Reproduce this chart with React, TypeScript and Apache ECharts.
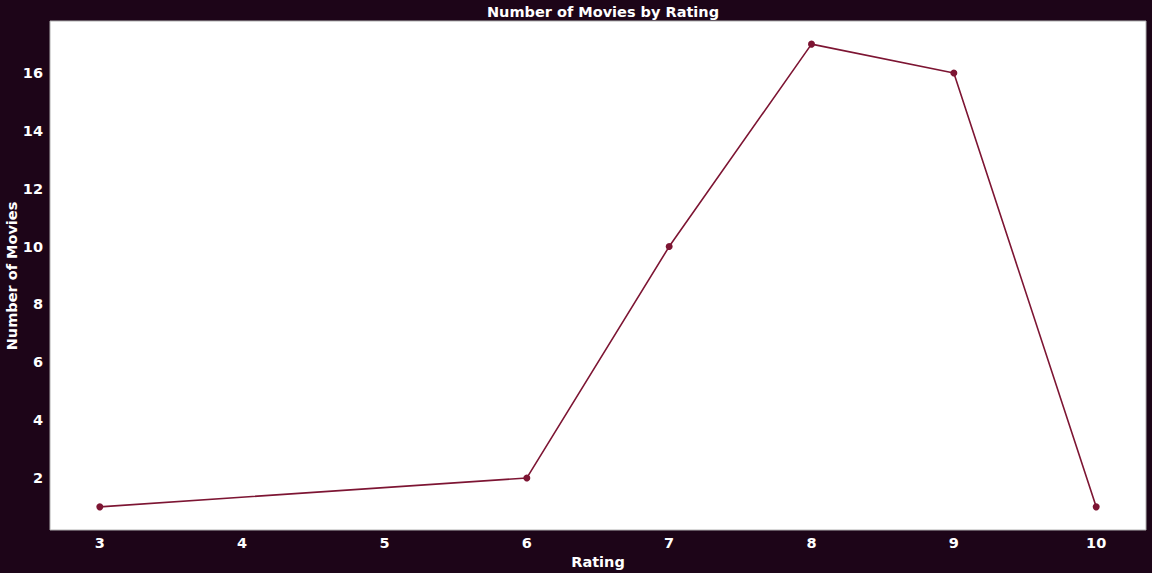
import React, { useEffect, useRef } from 'react';
import * as echarts from 'echarts';

const ratings = [3, 6, 7, 8, 9, 10];
const movieCounts = [1, 2, 10, 17, 16, 1];
const xTicks = [3, 4, 5, 6, 7, 8, 9, 10];
const yTicks = [2, 4, 6, 8, 10, 12, 14, 16];

const BG = '#1d0518';
const LINE = '#7d1533';
const FONT = 'DejaVu Sans';

export default function App() {
  const chartRef = useRef<HTMLDivElement>(null);

  useEffect(() => {
    if (!chartRef.current) return;
    const chart = echarts.init(chartRef.current, null, { renderer: 'svg' });

    const option = {
      animation: false,
      backgroundColor: BG,
      title: {
        text: 'Number of Movies by Rating',
        left: 598,
        top: -1,
        textAlign: 'center',
        textStyle: { color: '#ffffff', fontFamily: FONT, fontWeight: 'bold', fontSize: 14.5 }
      },
      // y axis title drawn by hand so it sits where matplotlib put it
      graphic: [
        {
          type: 'text',
          x: 12,
          y: 276,
          rotation: Math.PI / 2,
          style: {
            text: 'Number of Movies',
            fill: '#ffffff',
            font: `bold 14.5px "${FONT}"`,
            align: 'center',
            verticalAlign: 'middle'
          }
        }
      ],
      grid: {
        left: 50,
        right: 6,
        top: 21,
        bottom: 43,
        outerBoundsMode: 'none',
        containLabel: false,
        show: true,
        backgroundColor: '#ffffff',
        borderColor: '#b0b0b0',
        borderWidth: 1
      },
      xAxis: {
        type: 'value',
        min: 2.65,
        max: 10.35,
        name: 'Rating',
        nameLocation: 'middle',
        nameGap: 23,
        nameTextStyle: { color: '#ffffff', fontFamily: FONT, fontWeight: 'bold', fontSize: 14.5 },
        axisLine: { show: false },
        splitLine: { show: false },
        axisTick: { show: false, customValues: xTicks },
        axisLabel: {
          customValues: xTicks,
          color: '#ffffff',
          fontFamily: FONT,
          fontWeight: 'bold',
          fontSize: 14.5,
          margin: 5
        }
      },
      yAxis: {
        type: 'value',
        min: 0.2,
        max: 17.8,
        axisLine: { show: false },
        splitLine: { show: false },
        axisTick: { show: false, customValues: yTicks },
        axisLabel: {
          customValues: yTicks,
          color: '#ffffff',
          fontFamily: FONT,
          fontWeight: 'bold',
          fontSize: 14.5,
          margin: 7
        }
      },
      series: [
        {
          type: 'line',
          data: ratings.map((r, i) => [r, movieCounts[i]]),
          symbol: 'circle',
          symbolSize: 7,
          lineStyle: { color: LINE, width: 1.6 },
          itemStyle: { color: LINE }
        }
      ]
    } as any;

    chart.setOption(option);
    return () => chart.dispose();
  }, []);

  return (
    <div
      ref={chartRef}
      style={{ position: 'fixed', left: 0, top: 0, width: 1152, height: 573 }}
    />
  );
}
